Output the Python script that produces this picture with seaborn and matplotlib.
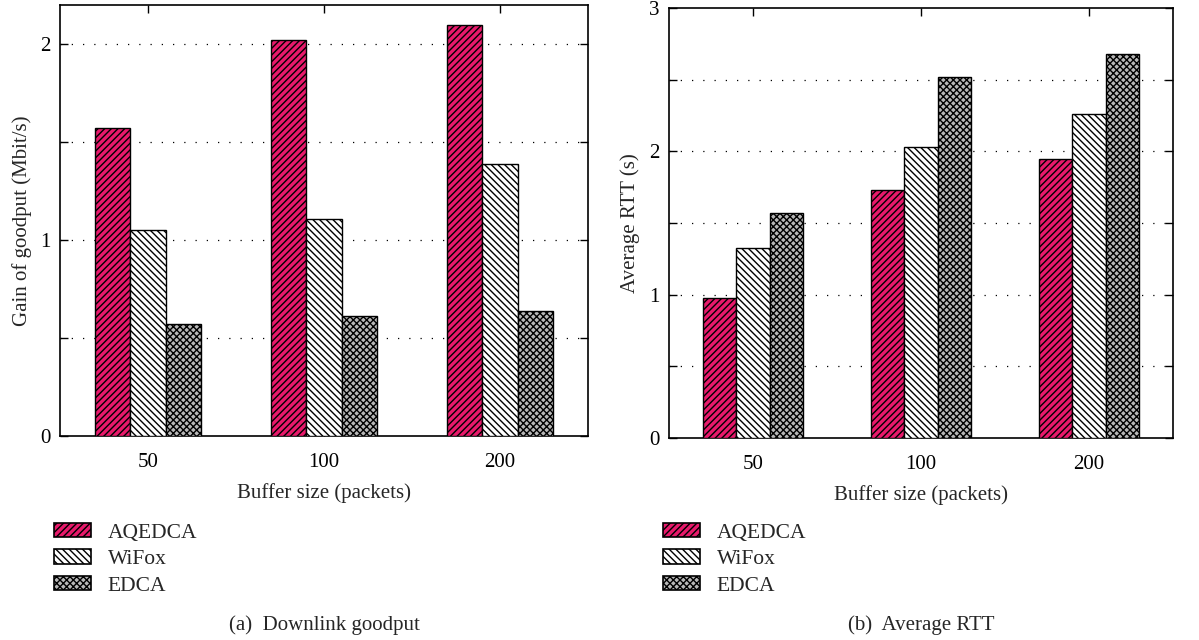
import numpy as np
import pandas as pd
import matplotlib
matplotlib.use('Agg')
import matplotlib.pyplot as plt
import seaborn as sns

sns.set_style('ticks')
plt.rcParams['font.family'] = ['Liberation Serif', 'DejaVu Serif']
plt.rcParams['hatch.linewidth'] = 1.0

buffers = ['50', '100', '200']
schemes = ['AQEDCA', 'WiFox', 'EDCA']

goodput_aqedca = [1.57, 2.02, 2.10]
goodput_wifox = [1.05, 1.11, 1.39]
goodput_edca = [0.57, 0.615, 0.64]

rtt_aqedca = [0.98, 1.73, 1.95]
rtt_wifox = [1.325, 2.03, 2.26]
rtt_edca = [1.57, 2.52, 2.68]

colors = ['#E8196B', '#FFFFFF', '#B8B8B8']
hatches = ['/////', '\\\\\\\\\\', 'xxxxx']


def make_df(a, w, e):
    rows = []
    for name, vals in zip(schemes, [a, w, e]):
        for b, v in zip(buffers, vals):
            rows.append({'buffer': b, 'scheme': name, 'value': v})
    return pd.DataFrame(rows)


fig = plt.figure(figsize=(11.99, 6.4), dpi=100)
ax1 = fig.add_axes([60 / 1199, 1 - 436 / 640, 528 / 1199, 431 / 640])
ax2 = fig.add_axes([669 / 1199, 1 - 438 / 640, 504 / 1199, 430 / 640])

panels = [
    (ax1, make_df(goodput_aqedca, goodput_wifox, goodput_edca), 2.2,
     'Gain of goodput (Mbit/s)', '(a)  Downlink goodput'),
    (ax2, make_df(rtt_aqedca, rtt_wifox, rtt_edca), 3.0,
     'Average RTT (s)', '(b)  Average RTT'),
]

fs = 15
for ax, df, ymax, ylab, cap in panels:
    sns.barplot(data=df, x='buffer', y='value', hue='scheme', order=buffers,
                hue_order=schemes, palette=colors, width=0.6, gap=0,
                edgecolor='black', linewidth=1.0, saturation=1, ax=ax,
                legend=False, zorder=3)
    for cont, h in zip(ax.containers, hatches):
        for p in cont.patches:
            p.set_hatch(h)
    ax.set_xlim(-0.5, 2.5)
    ax.set_ylim(0, ymax)
    yt = np.arange(0, ymax + 0.01, 0.5)
    ax.set_yticks(yt)
    ax.set_yticklabels([f'{v:g}' if v == int(v) else '' for v in yt])
    for v in yt[1:]:
        if v < ymax:
            ax.axhline(v, color='black', lw=0.9, ls=(0, (1, 8)), zorder=1)
    ax.tick_params(direction='in', top=True, right=True, length=6, width=1,
                   labelsize=fs, colors='black')
    ax.tick_params(axis='x', pad=12)
    ax.tick_params(axis='y', pad=7)
    for s in ax.spines.values():
        s.set_linewidth(1.2)
        s.set_color('black')
    ax.set_xlabel('Buffer size (packets)', fontsize=fs, labelpad=8)
    ax.set_ylabel(ylab, fontsize=fs, labelpad=6)

    handles = [plt.Rectangle((0, 0), 1, 1, facecolor=c, edgecolor='black',
                             hatch=h, lw=1.2) for c, h in zip(colors, hatches)]
    bb = ax.get_position()
    ax.legend(handles, schemes, loc='upper left',
              bbox_to_anchor=(bb.x0 - 6 / 1199, 1 - 523 / 640),
              bbox_transform=fig.transFigure, frameon=False, fontsize=fs + 0.5,
              handlelength=1.7, handleheight=0.65, handletextpad=0.8,
              labelspacing=0.31, borderpad=0, borderaxespad=0)
    fig.text((bb.x0 + bb.x1) / 2, 1 - 625 / 640, cap, ha='center', va='center',
             fontsize=fs)

fig.savefig('out.png', dpi=100)
